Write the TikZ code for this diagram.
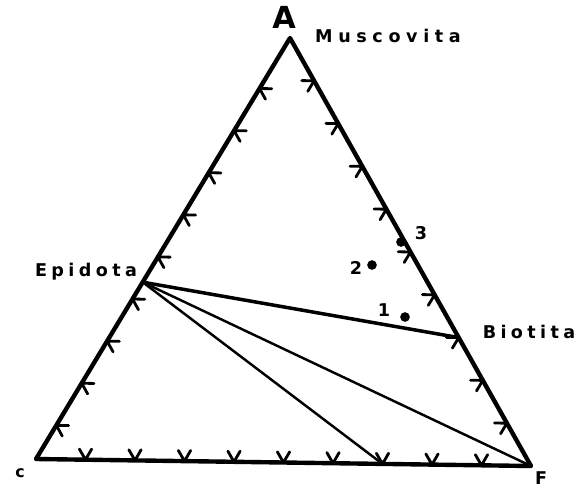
\documentclass[tikz,border=0pt]{standalone}
\usepackage{fontspec}
\usepackage{xcolor}
\usepackage{tikz}
\usetikzlibrary{positioning, calc}
\newfontfamily\handfont[LetterSpace=25]{DejaVu Sans}
\newfontfamily\capfont{DejaVu Sans}

\begin{document}
\begin{tikzpicture}[x=0.02cm, y=-0.02cm,
    side/.style={line width=2.5pt, line join=round, line cap=round},
    tie/.style={line width=1.4pt, line cap=round},
    chev/.style={line width=1.6pt, line cap=round, line join=round},
    lbl/.style={font=\handfont\bfseries, inner sep=0pt},
    num/.style={font=\capfont\bfseries, inner sep=0pt},
    dot/.style={circle, fill, inner sep=0pt, minimum size=5.5pt}]
  \useasboundingbox (0,0) rectangle (580,489);
  % corners of the triangle
  \coordinate (A) at (290,38);
  \coordinate (C) at (36,459);
  \coordinate (F) at (531,466);
  \draw[side] (C) -- (A) -- (F) -- cycle;
  % marks on the three sides
  \foreach \t in {0.08,0.18,0.28,0.38,0.48,0.58,0.68,0.78,0.88} {
    \coordinate (l) at ($(C)!\t!(A)$);
    \draw[chev] (l) ++(-1:7pt) -- (l) -- ++(-61:7pt);
  }
  \foreach \t in {0.1,0.2,0.3,0.4,0.5,0.6,0.7,0.8,0.9} {
    \coordinate (r) at ($(A)!\t!(F)$);
    \draw[chev] (r) ++(179:7pt) -- (r) -- ++(239:7pt);
    \coordinate (b) at ($(C)!\t!(F)$);
    \draw[chev] (b) ++(60:7pt) -- (b) -- ++(120:7pt);
  }
  % tie lines
  \coordinate (ep) at ($(C)!0.42!(A)$);
  \coordinate (bi) at ($(A)!0.7!(F)$);
  \coordinate (cf) at ($(C)!0.7!(F)$);
  \draw[tie, line width=2pt] (ep) -- (bi);
  \draw[tie] (ep) -- (F);
  \draw[tie] (ep) -- (cf);
  % points
  \node[dot] (p1) at (405,317) {};
  \node[dot] (p2) at (372,265) {};
  \node[dot] (p3) at (401,242) {};
  \node[num] (n1) at (384,310) {1};
  \node[num] (n2) at (356,268) {2};
  \node[num] (n3) at (421,233) {3};
  % labels
  \node[font=\capfont\bfseries\LARGE, inner sep=0pt] (atxt) at (284,17) {A};
  \node[lbl, font=\handfont\bfseries\addfontfeature{LetterSpace=32}] (muscovita) at (388,36) {Muscovita};
  \node[lbl] (epidota) at (86,272) {Epidota};
  \node[lbl] (biotita) at (529,332) {Biotita};
  \node[num, font=\capfont\bfseries\small] (ctxt) at (20,473) {c};
  \node[num] (ftxt) at (541,478) {F};
\end{tikzpicture}
\end{document}
